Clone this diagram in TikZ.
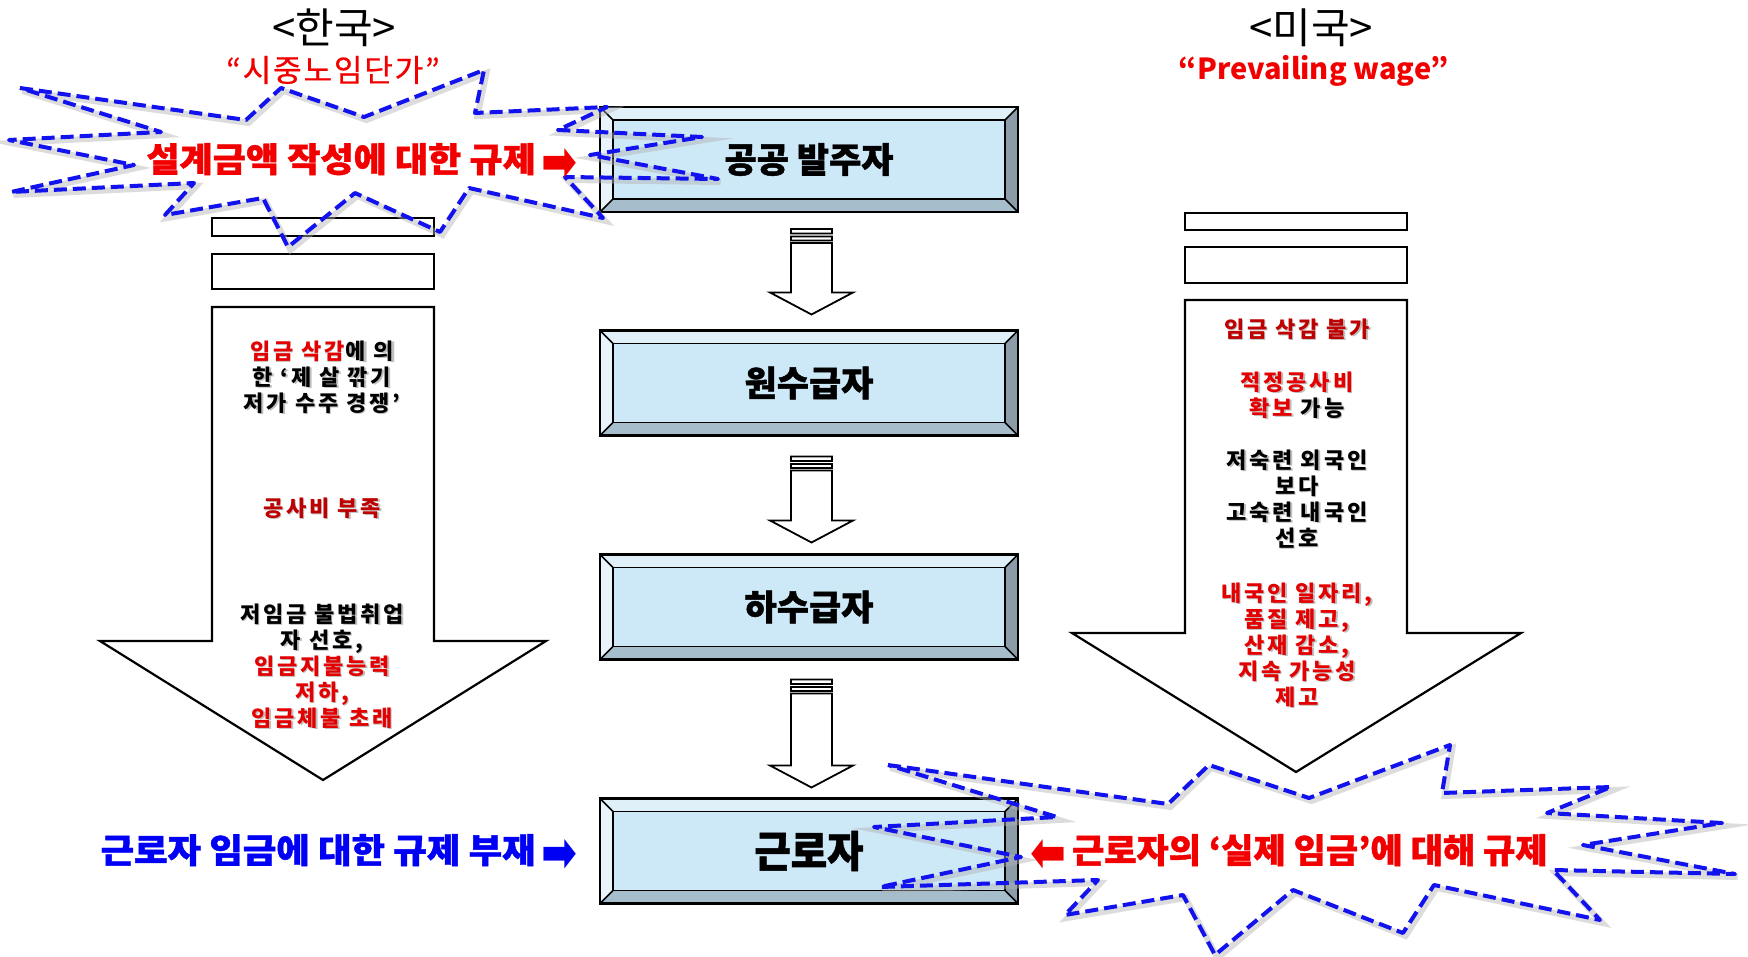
\documentclass[tikz,border=0pt]{standalone}
\usepackage{fontspec}
\usepackage{graphicx}
\setmainfont{Noto Sans CJK KR}
\newfontfamily\krsp{Noto Sans CJK KR}[LetterSpace=13]
\newfontfamily\krsub{Noto Sans CJK KR}[LetterSpace=6, FakeBold=0.6]
\newfontfamily\krheavy{Noto Sans CJK KR}[BoldFeatures={FakeBold=1.2}]
\newfontfamily\djv{DejaVu Sans}
\usetikzlibrary{calc}

\definecolor{face}{RGB}{205,232,247}
\definecolor{btop}{RGB}{224,240,249}
\definecolor{bleft}{RGB}{233,244,250}
\definecolor{bbot}{RGB}{166,189,203}
\definecolor{bright}{RGB}{140,157,169}
\definecolor{exblue}{RGB}{18,18,238}
\definecolor{myred}{RGB}{228,0,0}
\definecolor{dkred}{RGB}{190,0,0}
\definecolor{hlred}{RGB}{242,0,0}
\definecolor{txtblue}{RGB}{0,0,245}

\newif\ifshadowtext
\newcommand\R[1]{\ifshadowtext#1\else\textcolor{myred}{#1}\fi}
\newcommand\D[1]{\ifshadowtext#1\else\textcolor{dkred}{#1}\fi}
\newcommand\rarr{{\djv\raisebox{-9pt}{\resizebox{36pt}{32pt}{➡}}}}
\newcommand\larr{{\djv\raisebox{-9pt}{\scalebox{-1}[1]{\resizebox{36pt}{32pt}{➡}}}}}

\tikzset{
  every node/.style={inner sep=0pt, outer sep=0pt},
  hdr/.style={font=\fontsize{42}{46}\selectfont},
  subhdr/.style={font=\krsub\fontsize{31}{34}\selectfont, text=hlred},
  boxlabel/.style={font=\krheavy\bfseries\fontsize{35}{38}\selectfont},
  atext/.style={font=\krsp\bfseries\fontsize{22}{26}\selectfont, align=center},
  ashadow/.style={atext, text=black!45, opacity=0.55},
  bigarrow/.style={draw=black, line width=2.2pt, fill=white, line join=miter},
  smallarrow/.style={draw=black, line width=1.8pt, fill=white},
  boom/.style={draw=exblue, line width=4pt, dash pattern=on 13pt off 6pt, line join=round,
    preaction={draw=black!30, line width=6pt, opacity=0.45, transform canvas={xshift=2.5pt, yshift=-3pt}}},
  headline/.style={font=\krheavy\bfseries\fontsize{34}{36}\selectfont},
}

\newcommand\shtext[4]{%
  \global\shadowtexttrue
  \node[ashadow, xshift=1.5pt, yshift=-1.5pt] at (#2,#3) {#4};
  \global\shadowtextfalse
  \node[atext] (#1) at (#2,#3) {#4};
}

\newcommand\bevelbox[4]{%
  \node[minimum width=418pt, minimum height=105pt] (#1) at (#2,#3) {};
  \fill[face] (#1.north west) rectangle (#1.south east);
  \fill[btop] (#1.north west) -- (#1.north east) -- ($(#1.north east)+(-13,13)$) -- ($(#1.north west)+(13,13)$) -- cycle;
  \fill[bleft] (#1.north west) -- ($(#1.north west)+(13,13)$) -- ($(#1.south west)+(13,-13)$) -- (#1.south west) -- cycle;
  \fill[bbot] (#1.south west) -- ($(#1.south west)+(13,-13)$) -- ($(#1.south east)+(-13,-13)$) -- (#1.south east) -- cycle;
  \fill[bright] (#1.south east) -- ($(#1.south east)+(-13,-13)$) -- ($(#1.north east)+(-13,13)$) -- (#1.north east) -- cycle;
  \draw[line width=1.6pt] ($(#1.north west)+(13,13)$) rectangle ($(#1.south east)+(-13,-13)$);
  \draw[line width=1.6pt] (#1.north west) -- ++(13,13) (#1.north east) -- ++(-13,13) (#1.south west) -- ++(13,-13) (#1.south east) -- ++(-13,-13);
  \draw[line width=2.2pt] (#1.north west) rectangle (#1.south east);
  \node[boxlabel] (#1t) at (#1.center) {#4};
}

\newcommand\blockarrow[2]{%
  \draw[smallarrow] let \p1=(#1), \p2=(#2) in
   (\x1-20.5pt,\y1-14pt) -- (\x1-20.5pt,\y2+22pt) -- (\x1-41.5pt,\y2+22pt) -- (\x1,\y2) --
   (\x1+41.5pt,\y2+22pt) -- (\x1+20.5pt,\y2+22pt) -- (\x1+20.5pt,\y1-14pt) -- cycle
   (\x1-20.5pt,\y1) rectangle (\x1+20.5pt,\y1-4.5pt)
   (\x1-20.5pt,\y1-7.5pt) rectangle (\x1+20.5pt,\y1-11.5pt);
}

\begin{document}
\begin{tikzpicture}[x=1pt, y=-1pt]
\useasboundingbox (0,0) rectangle (1748,957);
\fill[white] (0,0) rectangle (1748,957);

% headers
\node[hdr] (kr) at (334,28) {<한국>};
\node[subhdr] (krsub) at (333,70) {“시중노임단가”};
\node[hdr] (us) at (1311,28) {<미국>};
\node[subhdr, font=\bfseries\fontsize{29}{32}\selectfont] (ussub) at (1314,71) {“Prevailing wage”};

% big arrows
\draw[bigarrow] (212,218) rectangle (434,236);
\draw[bigarrow] (212,254) rectangle (434,289);
\draw[bigarrow] (212,307) -- (434,307) -- (434,641) -- (546,641) -- (323,780) -- (100,641) -- (212,641) -- cycle;

\draw[bigarrow] (1185,213) rectangle (1407,230);
\draw[bigarrow] (1185,247) rectangle (1407,283);
\draw[bigarrow] (1185,300) -- (1407,300) -- (1407,633) -- (1521,633) -- (1296,772) -- (1072,633) -- (1185,633) -- cycle;

% boxes
\bevelbox{b1}{809}{159.5}{공공 발주자}
\bevelbox{b2}{809}{383}{원수급자}
\bevelbox{b3}{809}{607}{하수급자}
\bevelbox{b4}{809}{851}{\fontsize{43}{45}\selectfont\scalebox{0.92}[1]{근로자}}

% connectors
\coordinate (a1s) at ($(b1.south)+(2.5,17)$);
\coordinate (a1e) at ($(b2.north)+(2.5,-16)$);
\coordinate (a2s) at ($(b2.south)+(2.5,21)$);
\coordinate (a2e) at ($(b3.north)+(2.5,-12)$);
\coordinate (a3s) at ($(b3.south)+(2.5,20)$);
\coordinate (a3e) at ($(b4.north)+(2.5,-11)$);
\blockarrow{a1s}{a1e}
\blockarrow{a2s}{a2e}
\blockarrow{a3s}{a3e}

% left arrow texts
\shtext{l1}{322}{377}{\R{임금 삭감}에 의\\한 ‘제 살 깎기\\저가 수주 경쟁’}
\shtext{l2}{322}{508}{\D{공사비 부족}}
\shtext{l3}{322}{666}{저임금 불법취업\\자 선호,\\\R{임금지불능력}\\\R{저하,}\\\R{임금체불 초래}}

% right arrow texts
\shtext{r1}{1297}{329}{\D{임금 삭감 불가}}
\shtext{r2}{1297}{395}{\R{적정공사비}\\\R{확보} 가능}
\shtext{r3}{1297}{499}{저숙련 외국인\\보다\\고숙련 내국인\\선호}
\shtext{r4}{1297}{645}{\R{내국인 일자리,}\\\R{품질 제고,}\\\R{산재 감소,}\\\R{지속 가능성}\\\R{제고}}

% explosions
\draw[boom] (20,88) -- (246,120) -- (281,88) -- (364,117) -- (484,70) -- (475,113) -- (607,107) -- (558,130) -- (702,137) -- (590,155) -- (718,179) -- (565,177) -- (603,218) -- (469,188) -- (440,232) -- (355,193) -- (288,247) -- (263,198) -- (165,215) -- (194,183) -- (11,192) -- (134,165) -- (9,140) -- (161,132) -- cycle;

\draw[boom] (888,765) -- (1168,804) -- (1209,765) -- (1309,798) -- (1450,745) -- (1442,793) -- (1611,787) -- (1547,813) -- (1722,823) -- (1583,845) -- (1735,874) -- (1553,870) -- (1600,920) -- (1434,885) -- (1403,933) -- (1293,890) -- (1215,955) -- (1183,895) -- (1065,915) -- (1098,880) -- (880,887) -- (1021,857) -- (874,827) -- (1057,817) -- cycle;

% headline texts
\node[headline, text=hlred] (tl) at (362,162) {\scalebox{1.06}[1]{설계금액 작성에 대한 규제}\,\rarr};
\node[headline, text=txtblue] (bl) at (339,853) {\scalebox{1.07}[1]{근로자 임금에 대한 규제 부재}\,\rarr};
\node[headline, text=hlred] (brt) at (1289,853) {\larr\,\scalebox{1.03}[1]{근로자의 ‘실제 임금’에 대해 규제}};
\end{tikzpicture}
\end{document}
